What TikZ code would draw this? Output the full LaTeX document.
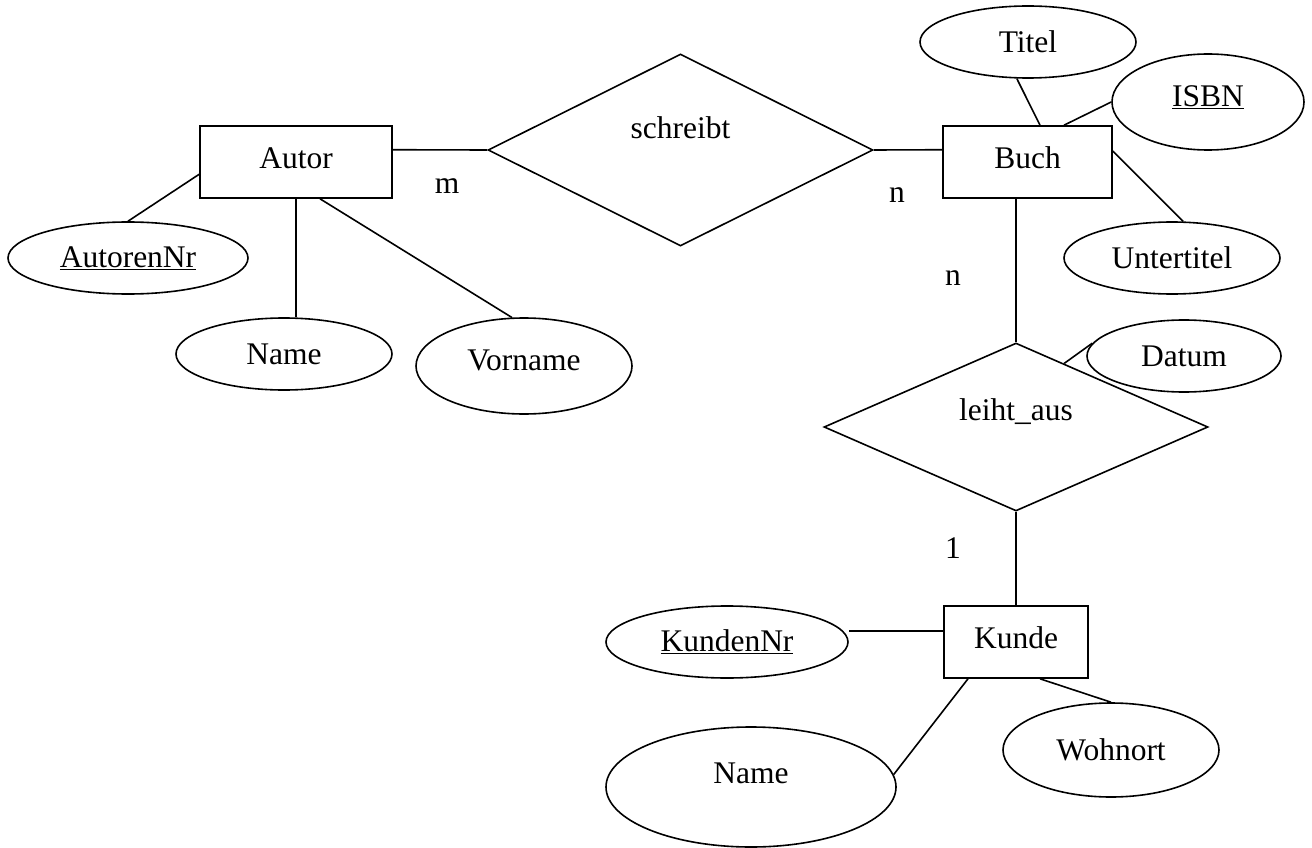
\documentclass[tikz,border=0pt]{standalone}
\usepackage{fontspec}
\setmainfont{Liberation Serif}
\usetikzlibrary{calc,positioning,shapes.geometric}

\begin{document}
\begin{tikzpicture}[x=1pt,y=-1pt,line width=1.6pt,
  every node/.style={font=\fontsize{31.5}{36}\selectfont},
  ent/.style={draw,rectangle,inner sep=0pt,minimum height=72pt,text depth=8pt},
  rel/.style={draw,diamond,inner sep=0pt},
  att/.style={draw,ellipse,inner sep=0pt},
  kard/.style={inner sep=0pt}]
  \useasboundingbox (0,0) rectangle (1312,848);
  % Entitaeten
  \node[ent,minimum width=192pt] (autor) at (296,162) {Autor};
  \node[ent,minimum width=169pt] (buch) at (1027.5,162) {Buch};
  \node[ent,minimum width=144pt] (kunde) at (1016,642) {Kunde};
  % Beziehungen
  \node[rel,minimum width=385pt,minimum height=192pt,label={[yshift=22pt]center:schreibt}] (schreibt) at (680.5,150) {};
  \node[rel,minimum width=384pt,minimum height=168pt,label={[yshift=15pt]center:leiht\_aus}] (leiht) at (1016,427) {};
  % Attribute
  \node[att,minimum width=240pt,minimum height=72pt] (autorennr) at (128,258) {\underline{AutorenNr}};
  \node[att,minimum width=216pt,minimum height=72pt] (name) at (284,354) {Name};
  \node[att,minimum width=216pt,minimum height=96pt,label={[yshift=6pt]center:Vorname}] (vorname) at (524,366) {};
  \node[att,minimum width=216pt,minimum height=72pt] (titel) at (1028,42) {Titel};
  \node[att,minimum width=192pt,minimum height=96pt,label={[yshift=5pt]center:\underline{ISBN}}] (isbn) at (1208,102) {};
  \node[att,minimum width=216pt,minimum height=72pt] (untertitel) at (1172,258) {Untertitel};
  \node[att,minimum width=194pt,minimum height=72pt] (datum) at (1184,356) {Datum};
  \node[att,minimum width=242pt,minimum height=72pt] (kundennr) at (727,642) {\underline{KundenNr}};
  \node[att,minimum width=290pt,minimum height=120pt,label={[yshift=14pt]center:Name}] (kname) at (751,787) {};
  \node[att,minimum width=216pt,minimum height=94pt] (wohnort) at (1111,750) {Wohnort};
  % Kardinalitaeten
  \node[kard] (m1) at (447,186) {m};
  \node[kard] (n1) at (897,195) {n};
  \node[kard] (n2) at (953,278) {n};
  \node[kard] (e1) at (953,548) {1};

  \draw ($(autor.north east)!1/3!(autor.south east)$) -- (schreibt.west);
  \draw (schreibt.east) -- ($(buch.north west)!1/3!(buch.south west)$);
  \draw ($(autor.north west)!2/3!(autor.south west)$) -- (autorennr.north);
  \draw (autor.south) -- (autor.south |- name.north);
  \draw ([xshift=24pt]autor.south) -- (vorname.104);
  \draw ([xshift=12.5pt]buch.north) -- (titel.253);
  \draw ([xshift=36.5pt]buch.north) -- (isbn.west);
  \draw ($(buch.north east)!0.35!(buch.south east)$) -- (untertitel.73);
  \draw (leiht.north |- buch.south) -- (leiht.north);
  \draw ($(leiht.north)!0.25!(leiht.east)$) -- (datum.172);
  \draw (leiht.south) -- (kunde.north);
  \draw ($(kunde.north west)!0.35!(kunde.south west)$) coordinate (kw) -- (kundennr.east |- kw);
  \draw ([xshift=-48pt]kunde.south) -- (kname.5);
  \draw ([xshift=24pt]kunde.south) -- (wohnort.north);
\end{tikzpicture}
\end{document}
